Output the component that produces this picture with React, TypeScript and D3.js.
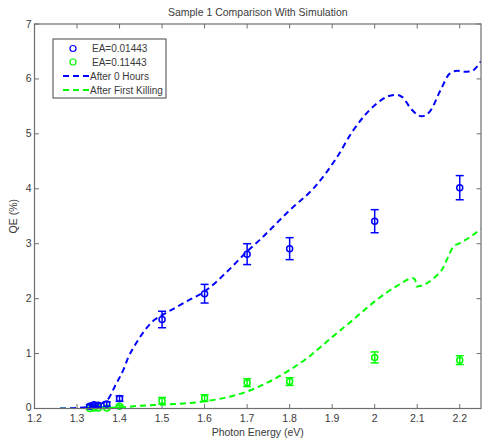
import React from "react";
import * as d3 from "d3";

// Measured photon energies (eV)
const energies = [1.33, 1.34, 1.35, 1.37, 1.4, 1.5, 1.6, 1.7, 1.8, 2.0, 2.2];

// EA = 0.01443 sample: QE (%) and error
const qeLow = [0.04, 0.07, 0.06, 0.08, 0.18, 1.62, 2.09, 2.81, 2.91, 3.41, 4.02];
const errLow = [0.03, 0.03, 0.03, 0.04, 0.05, 0.15, 0.17, 0.19, 0.2, 0.21, 0.22];

// EA = 0.11443 sample: QE (%) and error
const qeHigh = [0.0, 0.01, 0.01, 0.01, 0.04, 0.14, 0.19, 0.47, 0.49, 0.93, 0.88];
const errHigh = [0.01, 0.01, 0.01, 0.01, 0.02, 0.06, 0.06, 0.07, 0.07, 0.1, 0.08];

// Simulation: after 0 hours
const simZeroE = [1.26, 1.3, 1.33, 1.35, 1.36, 1.374, 1.39, 1.41, 1.42, 1.44, 1.46, 1.48, 1.5, 1.53, 1.56, 1.6, 1.65, 1.7, 1.73, 1.76, 1.8, 1.86, 1.91, 1.95, 2.0, 2.03, 2.05, 2.065, 2.085, 2.11, 2.13, 2.155, 2.177, 2.195, 2.21, 2.228, 2.24, 2.25];
const simZeroQE = [0.0, 0.01, 0.03, 0.06, 0.1, 0.18, 0.42, 0.72, 0.92, 1.2, 1.43, 1.6, 1.7, 1.83, 1.96, 2.13, 2.47, 2.86, 3.07, 3.3, 3.61, 4.04, 4.56, 5.07, 5.52, 5.68, 5.71, 5.67, 5.46, 5.32, 5.41, 5.8, 6.1, 6.15, 6.13, 6.14, 6.22, 6.32];

// Simulation: after first killing
const simKillE = [1.26, 1.3, 1.35, 1.4, 1.45, 1.5, 1.55, 1.6, 1.65, 1.7, 1.75, 1.8, 1.85, 1.87, 1.9, 1.95, 2.0, 2.05, 2.09, 2.095, 2.098, 2.12, 2.14, 2.16, 2.175, 2.185, 2.2, 2.22, 2.25];
const simKillQE = [0.0, 0.0, 0.01, 0.02, 0.05, 0.07, 0.09, 0.13, 0.2, 0.31, 0.48, 0.7, 0.97, 1.1, 1.3, 1.62, 1.95, 2.22, 2.37, 2.35, 2.22, 2.27, 2.38, 2.55, 2.8, 2.95, 3.01, 3.1, 3.27];

const xTicks = [1.2, 1.3, 1.4, 1.5, 1.6, 1.7, 1.8, 1.9, 2.0, 2.1, 2.2];
const yTicks = [0, 1, 2, 3, 4, 5, 6, 7];

const W = 482;
const H = 441;
const M = { left: 34.5, right: 481, top: 24, bottom: 408.5 };
const BLUE = "#0000ff";
const GREEN = "#00ff00";
const AXIS = "#6e6e6e";
const TEXT = "#3a3a3a";
const FONT = "'Liberation Sans', Arial, Helvetica, sans-serif";

export default function App() {
  const x = d3.scaleLinear().domain([1.2, 2.25]).range([M.left, M.right]);
  const y = d3.scaleLinear().domain([0, 7]).range([M.bottom, M.top]);

  const line = d3
    .line<[number, number]>()
    .x((d) => x(d[0]))
    .y((d) => y(d[1]))
    .curve(d3.curveMonotoneX);

  const zeroPath = line(simZeroE.map((e, i) => [e, simZeroQE[i]]) as [number, number][]) || "";
  const killPath = line(simKillE.map((e, i) => [e, simKillQE[i]]) as [number, number][]) || "";

  const fmt = (v: number) => (Number.isInteger(v) ? String(v) : v.toFixed(1).replace(/\.0$/, ""));
  const tickLen = 4.5;
  const cap = 4;

  const errorBars = (vals: number[], errs: number[], color: string, key: string) =>
    energies.map((e, i) => {
      const cx = x(e);
      const y0 = y(vals[i] - errs[i]);
      const y1 = y(vals[i] + errs[i]);
      return (
        <g key={key + i} stroke={color} strokeWidth={1.5} fill="none">
          <line x1={cx} x2={cx} y1={y0} y2={y1} />
          <line x1={cx - cap} x2={cx + cap} y1={y0} y2={y0} />
          <line x1={cx - cap} x2={cx + cap} y1={y1} y2={y1} />
          <circle cx={cx} cy={y(vals[i])} r={3} />
        </g>
      );
    });

  const legendX = 53;
  const legendY = 39;
  const rows = [48.5, 62, 76, 90];

  return (
    <svg
      width={W}
      height={H}
      style={{ position: "absolute", left: 0, top: 0, background: "#ffffff" }}
      fontFamily={FONT}
    >
      <defs>
        <clipPath id="plotClip">
          <rect x={M.left} y={M.top} width={M.right - M.left} height={M.bottom - M.top} />
        </clipPath>
      </defs>
      <rect x={0} y={0} width={W} height={H} fill="#ffffff" />

      {/* ticks on all four sides, pointing inward */}
      <g stroke={AXIS} strokeWidth={1}>
        {xTicks.map((t) => (
          <g key={"xt" + t}>
            <line x1={x(t)} x2={x(t)} y1={M.bottom} y2={M.bottom - tickLen} />
            <line x1={x(t)} x2={x(t)} y1={M.top} y2={M.top + tickLen} />
          </g>
        ))}
        {yTicks.map((t) => (
          <g key={"yt" + t}>
            <line x1={M.left} x2={M.left + tickLen} y1={y(t)} y2={y(t)} />
            <line x1={M.right} x2={M.right - tickLen} y1={y(t)} y2={y(t)} />
          </g>
        ))}
      </g>

      {/* simulation curves */}
      <g clipPath="url(#plotClip)" fill="none" strokeWidth={2} strokeDasharray="6,4">
        <path d={killPath} stroke={GREEN} />
        <path d={zeroPath} stroke={BLUE} />
      </g>

      {/* measured points */}
      {errorBars(qeHigh, errHigh, GREEN, "g")}
      {errorBars(qeLow, errLow, BLUE, "b")}

      {/* axes box */}
      <rect
        x={M.left}
        y={M.top}
        width={M.right - M.left}
        height={M.bottom - M.top}
        fill="none"
        stroke={AXIS}
        strokeWidth={1.2}
      />

      {/* tick labels */}
      <g fill={TEXT} fontSize={10.5}>
        {xTicks.map((t) => (
          <text key={"xl" + t} x={x(t)} y={421.5} textAnchor="middle">
            {fmt(t)}
          </text>
        ))}
        {yTicks.map((t) => (
          <text key={"yl" + t} x={M.left - 3} y={y(t) + (t === 0 ? 2 : 3.5)} textAnchor="end">
            {t}
          </text>
        ))}
      </g>

      {/* titles */}
      <text x={(M.left + M.right) / 2} y={16} textAnchor="middle" fontSize={10.5} fill={TEXT}>
        Sample 1 Comparison With Simulation
      </text>
      <text x={(M.left + M.right) / 2} y={436} textAnchor="middle" fontSize={10.5} fill={TEXT}>
        Photon Energy (eV)
      </text>
      <text
        transform={`translate(17, ${(M.top + M.bottom) / 2}) rotate(-90)`}
        textAnchor="middle"
        fontSize={10.5}
        fill={TEXT}
      >
        QE (%)
      </text>

      {/* legend */}
      <g>
        <rect x={legendX} y={legendY} width={113} height={59} fill="#ffffff" stroke="#444" strokeWidth={1} />
        <circle cx={73} cy={rows[0]} r={3} fill="none" stroke={BLUE} strokeWidth={1.2} />
        <circle cx={73} cy={rows[1]} r={3} fill="none" stroke={GREEN} strokeWidth={1.2} />
        <line x1={63} x2={89} y1={rows[2]} y2={rows[2]} stroke={BLUE} strokeWidth={2} strokeDasharray="6,4" />
        <line x1={63} x2={89} y1={rows[3]} y2={rows[3]} stroke={GREEN} strokeWidth={2} strokeDasharray="6,4" />
        <g fontSize={10} fill={TEXT}>
          <text x={92} y={rows[0] + 3.5}>EA=0.01443</text>
          <text x={92} y={rows[1] + 3.5}>EA=0.11443</text>
          <text x={90} y={rows[2] + 3.5}>After 0 Hours</text>
          <text x={90} y={rows[3] + 3.5}>After First Killing</text>
        </g>
      </g>
    </svg>
  );
}
